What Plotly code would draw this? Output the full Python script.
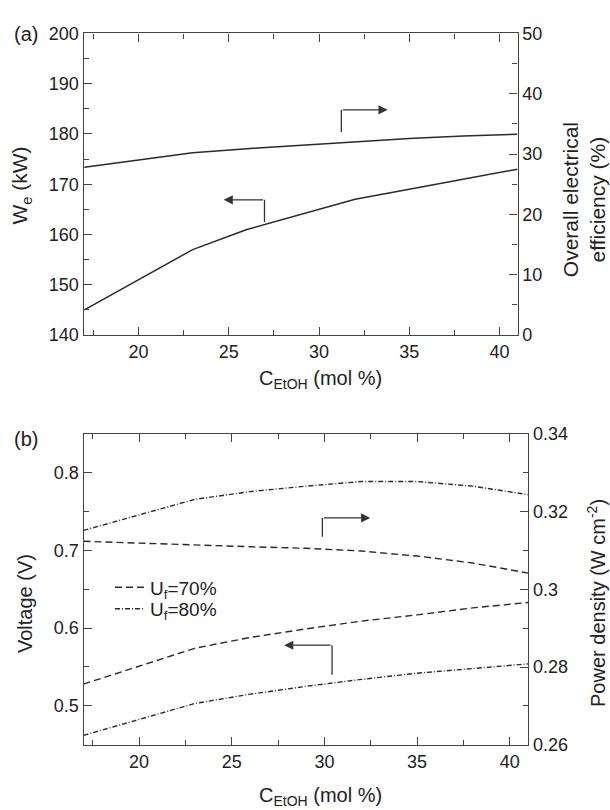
import plotly.graph_objects as go

# ---------------- data ----------------
x_top = [17, 20, 23, 26, 29, 32, 35, 38, 41]
we_kw = [145, 151, 157, 161, 164, 167, 169, 171, 173]
eff_pct = [27.8, 29.0, 30.2, 30.9, 31.5, 32.1, 32.6, 33.0, 33.3]

x_bot = [17, 20, 23, 26, 29, 32, 35, 38, 41]
volt_70 = [0.528, 0.551, 0.574, 0.588, 0.599, 0.609, 0.617, 0.626, 0.633]
volt_80 = [0.462, 0.483, 0.503, 0.515, 0.525, 0.534, 0.542, 0.548, 0.554]
pd_70 = [0.3124, 0.3119, 0.3114, 0.3110, 0.3106, 0.3099, 0.3086, 0.3068, 0.3042]
pd_80 = [0.3152, 0.3192, 0.3232, 0.3252, 0.3266, 0.3278, 0.3278, 0.3266, 0.3244]

legend_names = ["U<sub>f</sub>=70%", "U<sub>f</sub>=80%"]

W, H = 610, 810
FONT = "Liberation Sans, Arial, sans-serif"
LC = "#2a2a2a"
AX = "#444444"
DASH = "7px,4px"
DASHDOT = "5px,2px,1px,2px"


def px(v):
    return v / W


def py(v):
    return 1 - v / H


fig = go.Figure()

# top panel
fig.add_trace(go.Scatter(x=x_top, y=we_kw, mode="lines", xaxis="x", yaxis="y",
                         line=dict(color=LC, width=1.5), showlegend=False))
fig.add_trace(go.Scatter(x=x_top, y=eff_pct, mode="lines", xaxis="x", yaxis="y2",
                         line=dict(color=LC, width=1.5), showlegend=False))

# bottom panel
fig.add_trace(go.Scatter(x=x_bot, y=volt_70, mode="lines", xaxis="x2", yaxis="y3",
                         name=legend_names[0], legend="legend",
                         line=dict(color=LC, width=1.4, dash=DASH)))
fig.add_trace(go.Scatter(x=x_bot, y=volt_80, mode="lines", xaxis="x2", yaxis="y3",
                         name=legend_names[1], legend="legend2",
                         line=dict(color=LC, width=1.4, dash=DASHDOT)))
fig.add_trace(go.Scatter(x=x_bot, y=pd_70, mode="lines", xaxis="x2", yaxis="y4",
                         showlegend=False, line=dict(color=LC, width=1.4, dash=DASH)))
fig.add_trace(go.Scatter(x=x_bot, y=pd_80, mode="lines", xaxis="x2", yaxis="y4",
                         showlegend=False, line=dict(color=LC, width=1.4, dash=DASHDOT)))

tickfont = dict(family=FONT, size=18, color="#222")


def xax(domain, anchor, rng):
    return dict(domain=domain, anchor=anchor, range=rng, tick0=0, dtick=5,
                ticks="inside", ticklen=8, tickwidth=1.2, tickcolor=AX,
                minor=dict(ticks="inside", ticklen=5, dtick=2.5, tickcolor=AX, tickwidth=1.2),
                showline=True, linecolor=AX, linewidth=1.4, mirror="ticks",
                showgrid=False, zeroline=False, tickfont=tickfont)


def yax(domain, anchor, rng, dtick, mdtick, side="left", overlaying=None):
    d = dict(domain=domain, anchor=anchor, range=rng, tick0=0, dtick=dtick,
             ticks="inside", ticklen=8, tickwidth=1.2, tickcolor=AX,
             minor=dict(ticks="inside", ticklen=5, dtick=mdtick, tickcolor=AX, tickwidth=1.2),
             showline=True, linecolor=AX, linewidth=1.4, side=side,
             showgrid=False, zeroline=False, tickfont=tickfont)
    if overlaying:
        d["overlaying"] = overlaying
    return d


top_x = [px(83.5), px(517.5)]
top_y = [py(333.3), py(24)]
bot_x = [px(83.5), px(528.3)]
bot_y = [py(753.3), py(434.5)]

leg_common = dict(xanchor="left", yanchor="middle", bgcolor="rgba(0,0,0,0)",
                  borderwidth=0, font=dict(family=FONT, size=19, color="#222"),
                  itemwidth=30)

fig.update_layout(
    width=W, height=H,
    margin=dict(l=0, r=0, t=0, b=0),
    paper_bgcolor="white", plot_bgcolor="white",
    font=dict(family=FONT, color="#222"),
    xaxis=xax(top_x, "y", [16.95, 41.0]),
    yaxis=yax(top_y, "x", [140, 200], 10, 5),
    yaxis2=yax(top_y, "x", [0, 50], 10, 5, side="right", overlaying="y"),
    xaxis2=xax(bot_x, "y3", [17.0, 41.0]),
    yaxis3=yax(bot_y, "x2", [0.45, 0.85], 0.1, 0.05),
    yaxis4=yax(bot_y, "x2", [0.26, 0.3401], 0.02, 0.01, side="right", overlaying="y3"),
    legend=dict(x=px(110), y=py(592), **leg_common),
    legend2=dict(x=px(110), y=py(614), **leg_common),
)

# axis-title and panel-label annotations
tfont = dict(family=FONT, size=20, color="#222")
annos = [
    dict(text="(a)", x=px(12), y=py(25), xanchor="left", yanchor="middle"),
    dict(text="(b)", x=px(12), y=py(440), xanchor="left", yanchor="middle"),
    dict(text="W<sub>e</sub> (kW)", x=px(21), y=py(180), textangle=-90,
         xanchor="center", yanchor="middle", font=dict(family=FONT, size=21, color="#222")),
    dict(text="Overall electrical<br>efficiency (%)", x=px(584), y=py(195), textangle=-90,
         xanchor="center", yanchor="middle", font=dict(family=FONT, size=21, color="#222")),
    dict(text="C<sub>EtOH</sub> (mol %)", x=px(320), y=py(379),
         xanchor="center", yanchor="middle"),
    dict(text="Voltage (V)", x=px(25), y=py(608), textangle=-90,
         xanchor="center", yanchor="middle"),
    dict(text="Power density (W cm<sup>-2</sup>)", x=px(597), y=py(608), textangle=-90,
         xanchor="center", yanchor="middle"),
    dict(text="C<sub>EtOH</sub> (mol %)", x=px(320), y=py(806),
         xanchor="center", yanchor="middle"),
]
for a in annos:
    a.setdefault("font", tfont)
    fig.add_annotation(xref="paper", yref="paper", showarrow=False, **a)

# arrows (data coordinates)
arrows = [
    # (xref, yref, x_vert, y_low, y_high, x_tip)
    ("x", "y", 31.24, 180.4, 184.8, 33.8),
    ("x", "y", 26.98, 162.5, 166.9, 24.72),
    ("x2", "y3", 29.89, 0.7176, 0.7418, 32.47),
    ("x2", "y3", 30.41, 0.5399, 0.578, 27.83),
]
for xr, yr, xv, y0, y1, xt in arrows:
    fig.add_shape(type="line", xref=xr, yref=yr, x0=xv, x1=xv, y0=y0, y1=y1,
                  line=dict(color="#333", width=1.3))
    fig.add_annotation(xref=xr, yref=yr, axref=xr, ayref=yr, x=xt, y=y1, ax=xv, ay=y1,
                       text="", showarrow=True, arrowhead=2, arrowsize=1.4,
                       arrowwidth=1.3, arrowcolor="#333")

fig.write_html("out.html")
